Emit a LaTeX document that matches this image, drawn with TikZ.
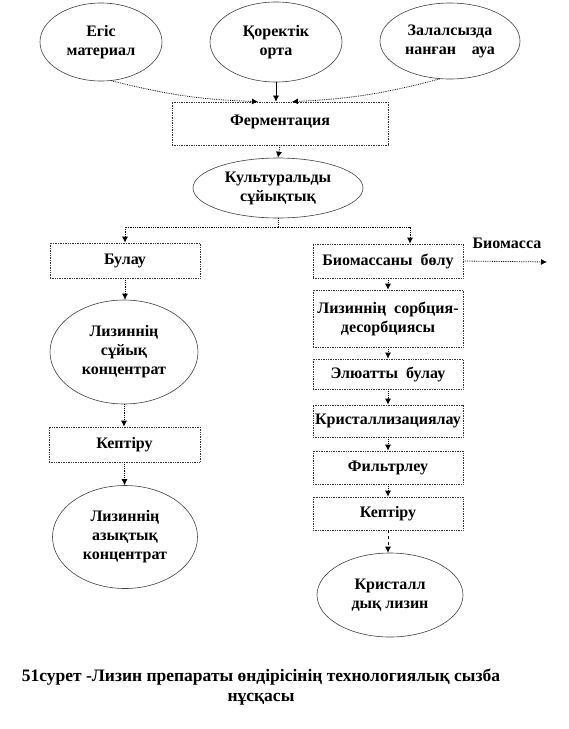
\documentclass[tikz,border=0pt]{standalone}
\usepackage{fontspec}
\setmainfont{Liberation Serif}
\usetikzlibrary{shapes.geometric,arrows.meta}
\begin{document}
\begin{tikzpicture}[x=1pt,y=-1pt,
  every node/.style={font=\fontsize{16}{19}\selectfont\bfseries, align=center, inner sep=0pt},
  oval/.style={ellipse, draw=black!75, line width=0.6pt},
  stepbox/.style={rectangle, draw=black!80, densely dotted, line width=0.7pt, minimum width=150pt},
  conn/.style={densely dotted, line width=0.8pt, -{Latex[length=6pt,width=6pt]}},
  solidconn/.style={line width=0.6pt, -{Latex[length=6pt,width=6pt]}}
]
\useasboundingbox (0,0) rectangle (569,729);

% top ellipses
\node[oval, minimum width=122pt, minimum height=78pt] (e1) at (101,42) {Егіс\\материал};
\node[oval, minimum width=132pt, minimum height=80pt] (e2) at (276,42) {Қоректік\\орта};
\node[oval, minimum width=140pt, minimum height=76pt] (e3) at (450,41) {Залалсызда\\нанған\quad ауа};

% fermentation
\node[stepbox, minimum width=216pt, minimum height=43pt] (ferm) at (280,123.5) {\raisebox{6pt}{Ферментация}};

\node[oval, minimum width=170pt, minimum height=60pt] (cult) at (278,188) {Культуральды\\сұйықтық};

% left column
\node[stepbox, minimum height=35pt] (bulau) at (125,260.5) {Булау};
\node[oval, minimum width=148pt, minimum height=104pt] (conc1) at (124,352) {Лизиннің\\сұйық\\концентрат};
\node[stepbox, minimum width=151pt, minimum height=35pt] (kep1) at (124.5,444.5) {Кептіру};
\node[oval, minimum width=145pt, minimum height=103pt] (conc2) at (125,537) {Лизиннің\\азықтық\\концентрат};

% right column
\node[stepbox, minimum height=34pt] (bio) at (388,261) {Биомассаны\enspace бөлу};
\node[stepbox, minimum height=57pt] (sorb) at (388,318.5) {Лизиннің\enspace сорбция-\\десорбциясы};
\node[stepbox, minimum height=30pt] (elu) at (388,374) {Элюатты\enspace булау};
\node[stepbox, minimum height=32pt] (kris) at (388,421) {Кристаллизациялау};
\node[stepbox, minimum height=33pt] (filt) at (388,467.5) {Фильтрлеу};
\node[stepbox, minimum height=33pt] (kep2) at (388,513.5) {Кептіру};
\node[oval, minimum width=146pt, minimum height=84pt] (final) at (390,595) {Кристалл\\дық лизин};

\node (biolabel) at (507,243) {Биомасса};
\coordinate (bioend) at (547,262);

% caption
\node[font=\fontsize{17.5}{20}\selectfont\bfseries] (cap) at (261,687) {51сурет -Лизин препараты өндірісінің технологиялық сызба\\нұсқасы};

% connectors top
\draw[conn] (e1.-75) to[bend right=6] ([xshift=-22pt]ferm.north);
\draw[solidconn] (e2.south) -- (e2.south |- ferm.north);
\draw[conn] (e3.-105) to[bend left=6] ([xshift=12pt]ferm.north);

\draw[conn] (ferm.south) -- (cult.north);

% split
\coordinate (split) at (cult.south |- 0,227);
\coordinate (splitL) at (bulau.north |- split);
\coordinate (splitR) at (410,227);
\draw[densely dotted, line width=0.8pt] (cult.south) -- (split);
\draw[conn] (split) -- (splitL) -- (bulau.north);
\draw[conn] (split) -- (splitR) -- (splitR |- bio.north);

% left chain
\draw[conn] (bulau.south) -- (bulau.south |- conc1.north);
\draw[conn] (conc1.south) -- (conc1.south |- kep1.north);
\draw[conn] (kep1.south) -- (kep1.south |- conc2.north);

% right chain
\draw[conn] (bio.south) -- (sorb.north);
\draw[conn] (sorb.south) -- (elu.north);
\draw[conn] (elu.south) -- (kris.north);
\draw[conn] (kris.south) -- (filt.north);
\draw[conn] (filt.south) -- (kep2.north);
\draw[conn, dashed] (kep2.south) -- (kep2.south |- final.north);
\draw[conn] (bio.east) -- (bioend);
\end{tikzpicture}
\end{document}
